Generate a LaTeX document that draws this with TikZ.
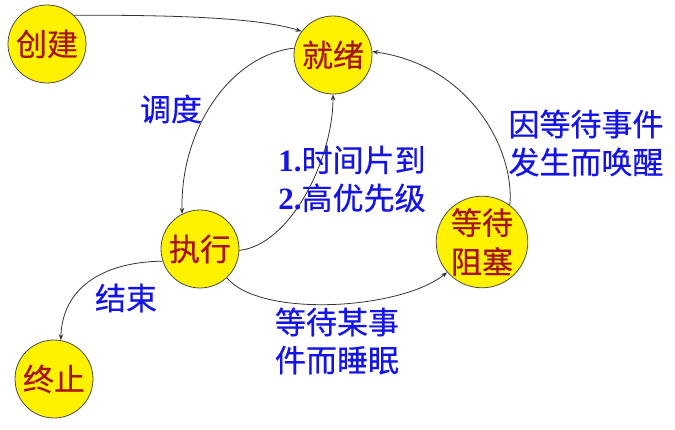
\documentclass[tikz,border=0pt]{standalone}
\usepackage{fontspec}
\newfontfamily\cjk{Noto Sans CJK SC}[FakeBold=0.5]
\newfontfamily\numf{Liberation Serif}
\usetikzlibrary{arrows.meta}
\definecolor{stred}{HTML}{A81414}
\definecolor{lblue}{HTML}{1414E6}
\tikzset{
  state/.style={circle, draw=black!70, line width=0.8pt, fill=yellow, minimum size=78pt, inner sep=0pt,
    text=stred, font=\cjk\fontsize{31}{39}\selectfont, align=center},
  lbl/.style={text=lblue, font=\cjk\fontsize{31}{38}\selectfont, inner sep=0pt},
  edge/.style={draw=black!80, line width=0.8pt, -{Stealth[length=6pt,width=4.5pt]}}
}
\begin{document}
\begin{tikzpicture}[x=1pt,y=-1pt]
\useasboundingbox (0,0) rectangle (675,430);
\node[state] (cj) at (47,44) {创建};
\node[state] (jx) at (333,55) {就绪};
\node[state] (zx) at (200,249) {执行};
\node[state] (dd) at (482,242) {等待\\阻塞};
\node[state] (zz) at (54,379) {终止};

\draw[edge] (cj.47) .. controls (180,15) and (260,18) .. (jx.143);
\draw[edge] (jx.170) .. controls (230,55) and (180,130) .. (zx.117);
\draw[edge] (zx.-2) .. controls (290,245) and (333,160) .. (jx.-90);
\draw[edge] (dd.53) .. controls (515,150) and (470,65) .. (jx.5);
\draw[edge] (zx.-47) .. controls (260,318) and (400,310) .. (dd.-139);
\draw[edge] (zx.198) .. controls (100,262) and (62,290) .. (zz.80);

\node[lbl] (l1) at (171,109) {调度};
\node[lbl, align=left] (l2) at (352,179) {{\numf\bfseries 1.}时间片到\\{\numf\bfseries 2.}高优先级};
\node[lbl, align=center] (l3) at (586,143) {因等待事件\\发生而唤醒};
\node[lbl, align=center] (l4) at (337,341) {等待某事\\件而睡眠};
\node[lbl] (l5) at (126,298) {结束};
\end{tikzpicture}
\end{document}
